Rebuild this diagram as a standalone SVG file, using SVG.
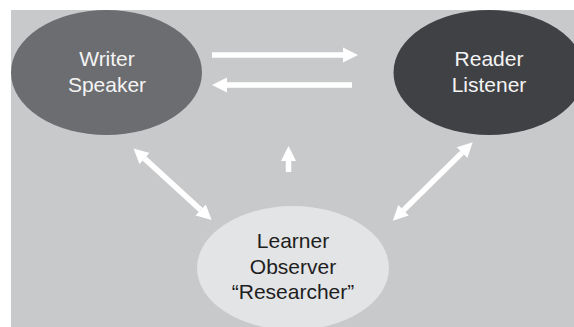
<svg xmlns="http://www.w3.org/2000/svg" width="574" height="327" viewBox="0 0 574 327">
  <style>
    .label { font-family: "Liberation Sans", Arial, sans-serif; font-size: 21px; text-anchor: middle; }
    .light { fill: #f4f4f4; }
    .dark { fill: #1e1e1e; }
    .link { stroke: #ffffff; fill: none; stroke-width: 5.5; stroke-linecap: butt; }
  </style>
  <defs>
    <marker id="head" markerUnits="userSpaceOnUse" markerWidth="16" markerHeight="16" refX="0" refY="7.5" orient="auto-start-reverse" viewBox="0 0 16 15">
      <path d="M0,0 L15,7.5 L0,15 z" fill="#ffffff"/>
    </marker>
  </defs>

  <!-- panel background -->
  <rect x="11" y="10" width="563" height="317" fill="#c8c9cb"/>

  <g id="writer">
    <ellipse cx="106.5" cy="72.5" rx="95.5" ry="62.5" fill="#6c6d71"/>
    <text class="label light" x="107" y="66">Writer</text>
    <text class="label light" x="107" y="92">Speaker</text>
  </g>

  <g id="reader">
    <ellipse cx="489" cy="72.5" rx="95.5" ry="62.5" fill="#404144"/>
    <text class="label light" x="489" y="66">Reader</text>
    <text class="label light" x="489" y="92">Listener</text>
  </g>

  <g id="learner">
    <ellipse cx="293" cy="268" rx="96" ry="62" fill="#e3e4e6"/>
    <text class="label dark" x="293" y="248">Learner</text>
    <text class="label dark" x="293" y="273.5">Observer</text>
    <text class="label dark" x="293" y="299">“Researcher”</text>
  </g>

  <g id="connectors">
    <line class="link" x1="212" y1="55" x2="343" y2="55" marker-end="url(#head)"/>
    <line class="link" x1="352" y1="85" x2="227" y2="85" marker-end="url(#head)"/>
    <line class="link" x1="288.5" y1="172" x2="288.5" y2="161" marker-end="url(#head)"/>
    <line class="link" x1="144.6" y1="158.6" x2="200.6" y2="209.9" marker-start="url(#head)" marker-end="url(#head)"/>
    <line class="link" x1="462" y1="152.8" x2="403.5" y2="210.2" marker-start="url(#head)" marker-end="url(#head)"/>
  </g>
</svg>
